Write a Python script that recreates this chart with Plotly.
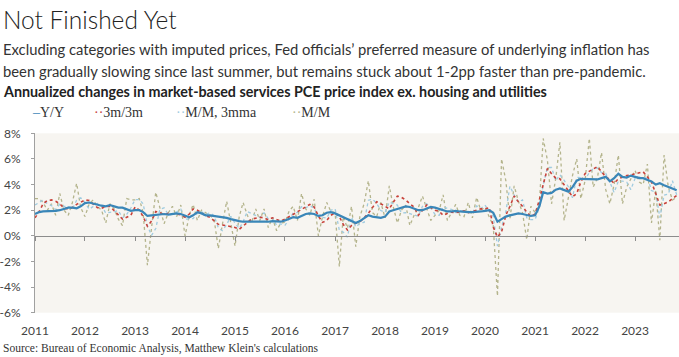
import pandas as pd
import plotly.graph_objects as go

# ---------------- data (monthly, Jan 2011 - Nov 2023) ----------------
yoy = [
    1.7, 1.85, 1.9, 1.9, 1.9, 1.95, 2.0, 2.1, 2.2, 2.2, 2.15, 2.3,
    2.55, 2.6, 2.5, 2.45, 2.35, 2.3, 2.4, 2.3, 2.2, 2.2, 2.1, 1.95,
    2.0, 2.0, 1.85, 1.55, 1.6, 1.65, 1.7, 1.7, 1.65, 1.7, 1.75, 1.7,
    1.6, 1.45, 1.6, 1.85, 1.75, 1.6, 1.6, 1.55, 1.55, 1.45, 1.4, 1.3,
    1.2, 1.15, 1.1, 1.1, 1.05, 1.1, 1.1, 1.05, 1.1, 1.15, 1.1, 1.1,
    1.2, 1.3, 1.45, 1.4, 1.55, 1.7, 1.75, 1.7, 1.55, 1.6, 1.8, 1.85,
    1.75, 1.6, 1.45, 1.3, 1.15, 1.0, 1.15, 1.35, 1.6, 1.5, 1.45, 1.4,
    1.5, 1.9, 2.0, 2.1, 2.2, 2.3, 2.25, 2.1, 2.0, 2.0, 2.15, 2.25,
    2.2, 2.1, 1.95, 1.9, 1.9, 1.95, 1.9, 1.85, 1.85, 1.85, 1.85, 1.9,
    1.95, 2.0, 1.8, 1.1, 1.3, 1.5, 1.6, 1.7, 1.75, 1.7, 1.65, 1.55,
    1.6, 2.3, 3.4, 3.3, 3.35, 3.6, 3.7, 3.6, 3.45, 3.8, 4.3, 4.45,
    4.45, 4.45, 4.45, 4.4, 4.5, 4.6, 4.25, 4.5, 4.85, 4.6, 4.55, 4.7,
    4.6, 4.5, 4.5, 4.4, 4.25, 4.0, 4.1, 3.95, 3.8, 3.7, 3.55,
]
three_m = [
    1.4, 1.9, 2.5, 2.75, 2.8, 2.7, 2.5, 2.15, 2.1, 2.2, 2.45, 2.65,
    2.8, 2.75, 2.5, 2.2, 2.15, 2.3, 2.3, 1.95, 1.6, 1.3, 1.45, 1.6,
    2.25, 2.0, 1.5, 0.75, 1.15, 1.9, 1.8, 1.65, 1.75, 1.7, 1.7, 1.65,
    1.45, 1.7, 2.1, 2.0, 1.8, 1.55, 1.45, 1.2, 0.9, 0.85, 0.8, 0.7,
    0.65, 0.5, 0.8, 1.05, 1.3, 1.4, 1.45, 1.4, 1.25, 1.4, 1.3, 1.15,
    1.3, 1.5, 1.7, 1.9, 2.1, 2.3, 2.45, 2.25, 1.55, 1.05, 1.2, 1.6,
    1.8, 1.5, 0.9, 0.45, 0.8, 1.0, 1.1, 1.4, 1.75, 2.2, 2.65, 2.5,
    2.3, 2.1, 2.6, 3.1, 3.0, 2.8, 2.5, 2.25, 1.6, 2.0, 2.4, 2.2,
    2.0, 1.9, 1.6, 1.75, 1.85, 1.8, 1.85, 1.95, 1.8, 1.9, 2.0, 2.1,
    2.1, 2.2, 0.7, -0.1, 0.3, 1.6, 2.3, 3.1, 2.65, 2.3, 1.85, 1.5,
    1.7, 2.8, 4.0, 5.25, 4.85, 4.5, 4.45, 3.95, 3.5, 3.05, 3.3, 4.2,
    4.85, 5.05, 5.2, 5.4, 5.0, 4.6, 4.4, 4.1, 4.45, 4.6, 4.7, 4.75,
    4.85, 4.95, 5.0, 4.6, 4.2, 3.3, 2.4, 2.5, 2.65, 2.9, 3.15,
]
mm_3mma = [
    2.4, 2.6, 2.8, 2.5, 2.37, 2.03, 2.47, 2.3, 2.3, 2.07, 2.77, 2.97,
    2.6, 2.07, 2.27, 2.53, 2.37, 1.77, 1.83, 1.87, 1.97, 1.4, 1.67, 2.17,
    2.83, 2.83, 2.5, 0.8, 0.03, 0.57, 2.07, 2.18, 1.65, 1.68, 1.87, 2.07,
    1.3, 1.33, 1.35, 1.75, 1.88, 1.67, 1.8, 1.57, 0.63, 0.4, 0.87, 1.53,
    0.97, 0.57, 1.1, 1.9, 1.73, 1.57, 1.43, 1.8, 1.32, 1.38, 0.82, 0.93,
    0.82, 1.33, 1.77, 1.82, 2.27, 2.2, 2.33, 2.18, 1.48, 1.45, 1.37, 2.0,
    2.1, 0.43, 0.3, -0.1, 1.47, 0.68, 0.98, 1.05, 2.77, 2.87, 2.53, 1.97,
    1.83, 2.63, 2.53, 2.4, 1.77, 1.8, 1.73, 1.6, 1.53, 2.3, 2.5, 2.17,
    1.67, 1.6, 2.27, 2.13, 2.07, 1.82, 1.95, 1.85, 1.9, 1.83, 2.33, 2.13,
    2.4, 1.9, 1.5, -0.8, 0.7, 1.87, 3.87, 3.17, 2.63, 2.8, 1.4, 1.27,
    1.27, 2.2, 3.97, 5.33, 5.33, 4.3, 4.77, 4.33, 3.83, 2.97, 4.57, 4.53,
    4.4, 4.93, 5.23, 5.3, 4.93, 4.87, 4.2, 3.37, 4.27, 4.27, 4.2, 3.6,
    4.47, 4.6, 4.43, 4.6, 3.53, 3.4, 1.42, 3.18, 3.25, 4.3, 3.2,
]
mm = [
    2.9, 2.9, 2.6, 2.0, 2.5, 1.6, 3.3, 2.0, 1.6, 2.6, 4.1, 2.2,
    1.5, 2.5, 2.8, 2.3, 2.0, 1.0, 2.5, 2.1, 1.3, 0.8, 2.9, 2.8,
    2.8, 2.9, 1.8, -2.3, 0.6, 3.4, 2.2, 0.95, 1.8, 2.3, 1.5, 2.4,
    0.0, 1.6, 2.45, 1.2, 2.0, 1.8, 1.6, 1.3, -1.0, 0.9, 2.7, 1.0,
    -0.8, 1.5, 2.6, 1.6, 1.0, 2.1, 1.2, 2.1, 0.65, 1.4, 0.4, 1.0,
    1.05, 1.95, 2.3, 1.2, 3.3, 2.1, 1.6, 2.85, 0.0, 1.5, 2.6, 1.9,
    1.8, -2.4, 1.5, 0.6, 2.3, -0.85, 1.5, 2.5, 4.3, 1.8, 1.5, 2.6,
    1.4, 3.9, 2.3, 1.0, 2.0, 2.4, 0.8, 1.6, 2.2, 3.1, 2.2, 1.2,
    1.6, 2.0, 3.2, 1.2, 1.8, 2.45, 1.6, 1.5, 2.6, 1.4, 3.0, 2.0,
    2.2, 1.5, 0.8, -4.7, 6.0, 4.3, 1.3, 3.9, 2.7, 1.8, -0.3, 2.3,
    1.8, 2.5, 7.6, 5.9, 2.5, 4.5, 7.3, 1.2, 3.0, 4.7, 6.0, 2.9,
    4.3, 7.6, 3.8, 4.5, 6.5, 3.6, 2.5, 4.0, 6.3, 2.5, 3.8, 4.5,
    5.1, 4.2, 4.0, 5.6, 1.0, 3.6, -0.35, 6.3, 3.8, 2.8, 3.0,
]
dates = pd.date_range("2011-01-01", periods=len(yoy), freq="MS")

year_ticks = [f"{y}-01-01" for y in range(2011, 2024)]
year_labels = [str(y) for y in range(2011, 2024)]
y_ticks = [8, 6, 4, 2, 0, -2, -4, -6]
y_labels = ["8%", "6%", "4%", "2%", "0%", "-2%", "-4%", "-6%"]

series_names = ["Y/Y", "3m/3m", "M/M, 3mma", "M/M"]
colors = {"Y/Y": "#3a86b8", "3m/3m": "#c8423a", "M/M, 3mma": "#9fcbe0", "M/M": "#b4b48c"}

# ---------------- figure ----------------
W, H = 679, 357
fig = go.Figure()
fig.add_trace(go.Scatter(x=dates, y=mm, name="M/M", mode="lines",
                         line=dict(color=colors["M/M"], width=1.3, dash="dot"), xaxis="x"))
fig.add_trace(go.Scatter(x=dates, y=mm_3mma, name="M/M, 3mma", mode="lines",
                         line=dict(color=colors["M/M, 3mma"], width=1.3, dash="dot"), xaxis="x"))
fig.add_trace(go.Scatter(x=dates, y=three_m, name="3m/3m", mode="lines",
                         line=dict(color=colors["3m/3m"], width=1.6, dash="dot"), xaxis="x"))
fig.add_trace(go.Scatter(x=dates, y=yoy, name="Y/Y", mode="lines",
                         line=dict(color=colors["Y/Y"], width=2.2), xaxis="x2"))

plot_top_px, plot_bot_px, plot_left_px = 133.3, 312.7, 35
y_dom = [1 - plot_bot_px / H, 1 - plot_top_px / H]
zero_pos = y_dom[0] + (0 - y_ticks[-1]) / (y_ticks[0] - y_ticks[-1]) * (y_dom[1] - y_dom[0])
x_range = ["2011-01-01", "2023-11-18"]
sans = "Lato"
serif = "Liberation Serif"

fig.update_layout(
    template="none",
    width=W, height=H,
    margin=dict(l=0, r=0, t=0, b=0, pad=0, autoexpand=False),
    paper_bgcolor="white", plot_bgcolor="#f7f5f1",
    showlegend=False,
    xaxis=dict(domain=[plot_left_px / W, 1], range=x_range, type="date", automargin=False,
               tickvals=year_ticks, ticktext=year_labels, showline=False, showgrid=False,
               zeroline=False, ticks="", ticklabelstandoff=9,
               tickfont=dict(family=sans, size=12, color="#444")),
    xaxis2=dict(overlaying="x", matches="x", anchor="free", position=zero_pos, side="bottom",
                type="date", tickvals=year_ticks, showticklabels=False, showgrid=False,
                automargin=False, zeroline=False, showline=True, linecolor="#8c8c8c", linewidth=1,
                ticks="outside", ticklen=4, tickcolor="#8c8c8c"),
    yaxis=dict(domain=y_dom, range=[y_ticks[-1], y_ticks[0]], tickvals=y_ticks, ticktext=y_labels,
               automargin=False, showgrid=False, zeroline=False, showline=True,
               linecolor="#a0a0a0", linewidth=1,
               ticks="outside", ticklen=3, tickcolor="#a0a0a0", ticklabelstandoff=8,
               tickfont=dict(family=sans, size=12, color="#444")),
)

def ann(text, x_px, y_px, size, family, color="#222", weight=None, yanchor="middle"):
    font = dict(family=family, size=size, color=color)
    if weight:
        font["weight"] = weight
    fig.add_annotation(text=text, x=x_px / W, y=1 - y_px / H, xref="paper", yref="paper",
                       xanchor="left", yanchor=yanchor, showarrow=False, font=font)

ann("Not Finished Yet", 1, 19, 24.5, sans, "#222", weight=300)
ann("Excluding categories with imputed prices, Fed officials’ preferred measure of underlying inflation has",
    1, 49, 14.8, sans, "#333")
ann("been gradually slowing since last summer, but remains stuck about 1-2pp faster than pre-pandemic.",
    1, 71, 14.8, sans, "#333")
ann("Annualized changes in market-based services PCE price index ex. housing and utilities",
    1, 91, 14.3, sans, "#222", weight="bold")

legend_x = {"Y/Y": 30, "3m/3m": 92, "M/M, 3mma": 174, "M/M": 290}
markers = {"Y/Y": "–", "3m/3m": "··", "M/M, 3mma": "··", "M/M": "··"}
for name in series_names:
    ann(f"<span style='color:{colors[name]}'>{markers[name]}</span>{name}",
        legend_x[name], 112, 14, serif, "#333")

ann("Source: Bureau of Economic Analysis, Matthew Klein's calculations", 1, 348, 11.5, serif, "#333")

# remove the browser's default 8px page margin so the figure fills the window
fig.write_html("out.html", config={"displayModeBar": False},
               post_script="document.body.style.margin='0';")
